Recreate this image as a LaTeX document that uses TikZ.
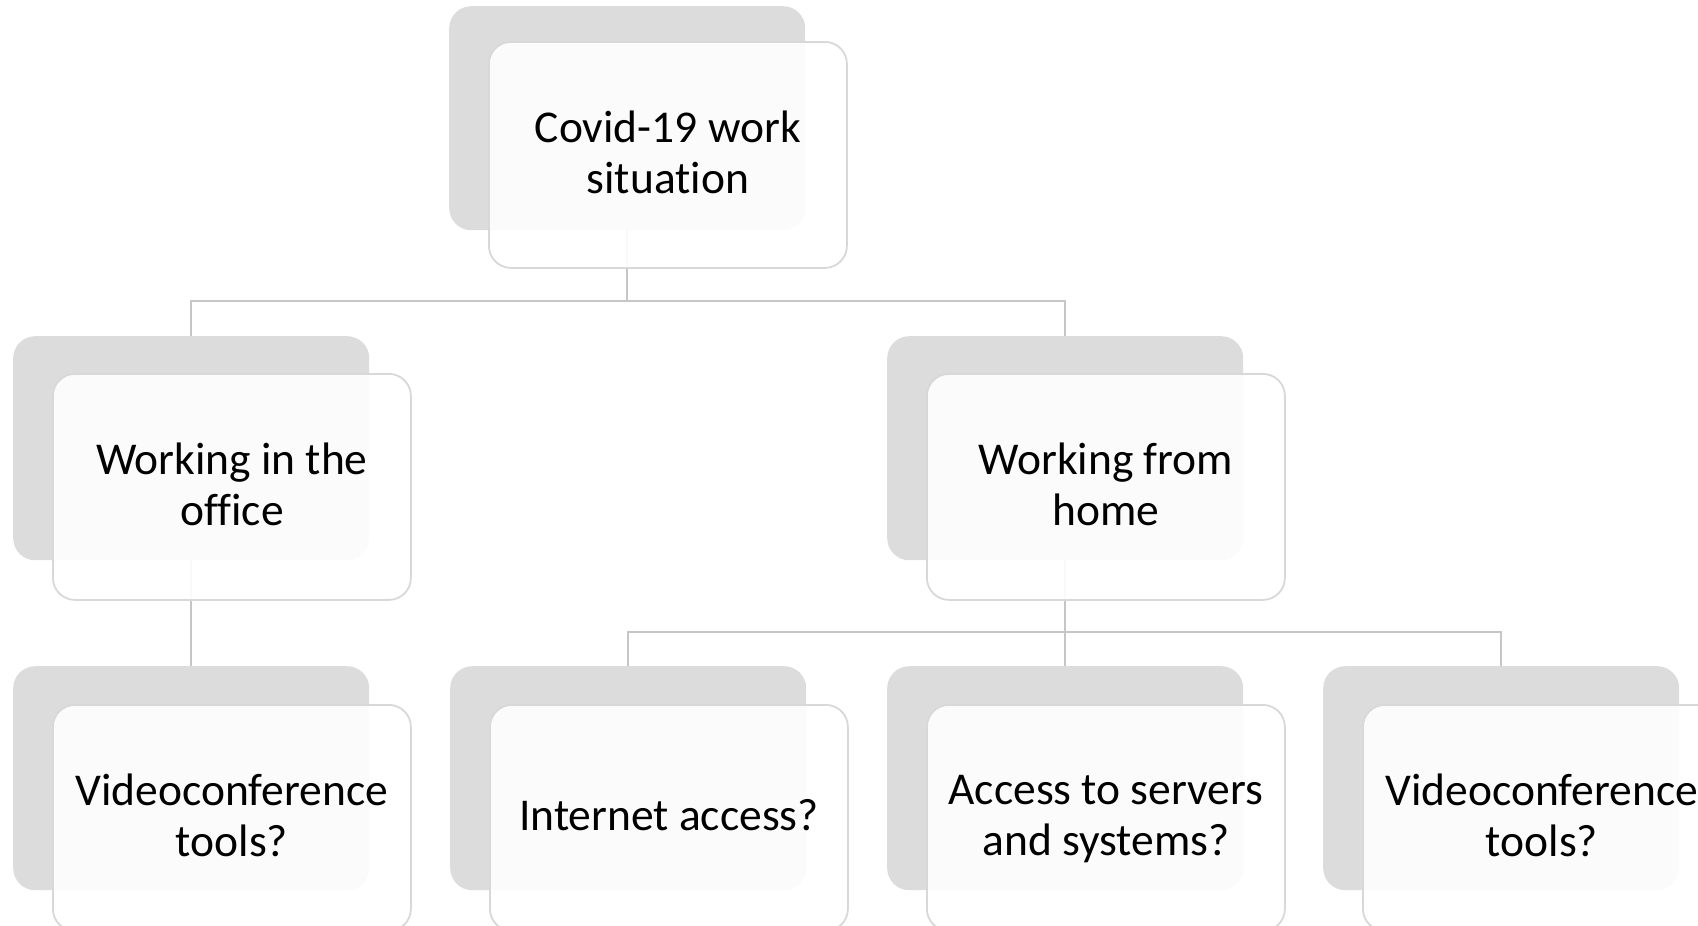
\documentclass[tikz,border=0pt]{standalone}
\usepackage{fontspec}
\setmainfont{Carlito}[Ligatures=NoCommon]
\definecolor{shade}{HTML}{DCDCDC}
\definecolor{edgec}{HTML}{D8D8D8}
\definecolor{linkc}{HTML}{C6C6C6}
\begin{document}
\begin{tikzpicture}[x=1pt,y=-1pt,
  back/.style={fill=shade, rounded corners=22pt, minimum width=356pt, minimum height=224pt, anchor=north west, inner sep=0pt},
  front/.style={draw=edgec, line width=1.8pt, fill=white, fill opacity=0.9, text opacity=1, rounded corners=22pt, minimum width=358pt, minimum height=226pt, anchor=north west, inner sep=0pt, align=center, text depth=5pt, font=\fontsize{45.5}{51}\selectfont},
  link/.style={draw=linkc, line width=2pt}]
\useasboundingbox (0,0) rectangle (1698,926);
\clip (0,0) rectangle (1698,926);
% back cards
\node[back] (g0) at (449,6) {};
\node[back] (g1) at (13,336) {};
\node[back] (g2) at (887,336) {};
\node[back] (g3) at (13,666) {};
\node[back] (g4) at (450,666) {};
\node[back] (g5) at (887,666) {};
\node[back] (g6) at (1323,666) {};
% connectors
\draw[link] (g0.south) -- ++(0,71) -| (g1.north);
\draw[link] (g0.south) -- ++(0,71) -| (g2.north);
\draw[link] (g1.south) -- (g3.north);
\draw[link] (g2.south) -- ++(0,72) -| (g4.north);
\draw[link] (g2.south) -- (g5.north);
\draw[link] (g2.south) -- ++(0,72) -| (g6.north);
% front cards
\node[front] (w0) at (488,41) {Covid-19 work\\situation};
\node[front] (w1) at (52,373) {Working in the\\office};
\node[front] (w2) at (926,373) {Working from\\home};
\node[front] (w3) at (52,704) {Videoconference\\tools?};
\node[front] (w4) at (489,704) {Internet access?};
\node[front] (w5) at (926,704) {Access to servers\\and systems?};
\node[front] (w6) at (1362,704) {Videoconference\\tools?};
\end{tikzpicture}
\end{document}
